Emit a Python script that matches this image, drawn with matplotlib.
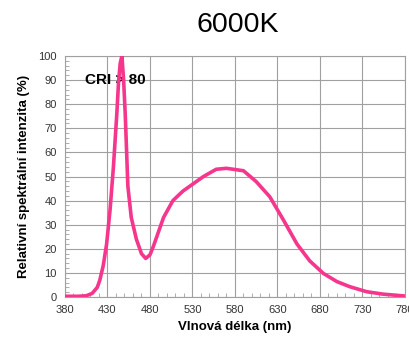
import numpy as np
import matplotlib.pyplot as plt
from matplotlib.ticker import MultipleLocator

plt.rcParams['font.family'] = ['Liberation Sans', 'DejaVu Sans']

# spectrum
wavelength = [380, 395, 405, 412, 418, 421, 425, 429, 433, 437, 441, 443, 445, 447, 449,
              451, 454, 458, 464, 470, 475, 480, 484, 488, 496, 507, 519, 531, 543,
              558, 570, 590, 605, 621, 637, 653, 668, 684, 700, 715, 735, 754, 780]
intensity = [0.3, 0.3, 0.5, 1.5, 4, 7, 13, 22, 36, 54, 76, 89, 97, 100, 90,
             75, 46, 33, 24, 18, 16, 17.5, 21, 25, 33, 40, 44, 47, 50,
             53, 53.4, 52.4, 47.9, 41.6, 32, 22, 15, 9.8, 6.4, 4.3, 2.2, 1.2, 0.4]
xticks = [380, 430, 480, 530, 580, 630, 680, 730, 780]
yticks = [0, 10, 20, 30, 40, 50, 60, 70, 80, 90, 100]

fig = plt.figure(figsize=(4.1, 3.38), dpi=100)
ax = fig.add_axes([0.1585, 0.1213, 0.829, 0.713])

ax.plot(wavelength, intensity, color='#f5368c', lw=2.6, zorder=5)
ax.text(403, 90, 'CRI > 80', fontsize=11, fontweight='bold', va='center', ha='left', zorder=3)

ax.set_xlim(380, 780)
ax.set_ylim(0, 100)
ax.set_xticks(xticks)
ax.set_yticks(yticks)
ax.xaxis.set_minor_locator(MultipleLocator(10))
ax.yaxis.set_minor_locator(MultipleLocator(2))
ax.grid(True, which='major', color='#a0a0a0', lw=0.8)
ax.tick_params(which='both', direction='in', color='#a0a0a0', labelsize=8, labelcolor='#333333')
ax.tick_params(which='major', length=0, pad=6)
ax.tick_params(which='minor', length=3)
for s in ax.spines.values():
    s.set_color('#a0a0a0')

ax.set_xlabel('Vlnová délka (nm)', fontsize=9.5, fontweight='bold', labelpad=4)
ax.set_ylabel('Relativní spektrální intenzita (%)', fontsize=9.5, fontweight='bold', labelpad=6)
fig.text(0.58, 0.926, '6000K', fontsize=20.5, ha='center', va='center')

fig.savefig('out.png', dpi=100)
